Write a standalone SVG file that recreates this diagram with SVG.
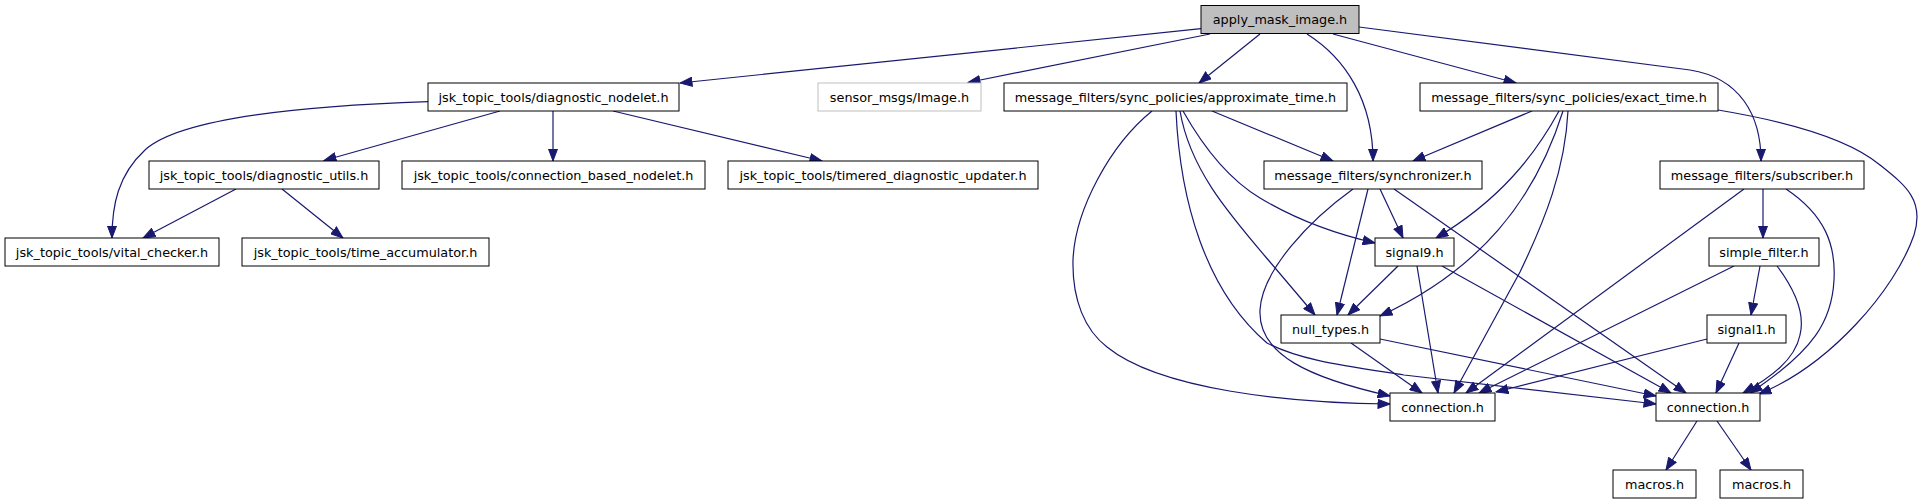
<svg xmlns="http://www.w3.org/2000/svg" width="1924" height="504" viewBox="0 0 1924 504">
<style>
.n rect{fill:#fff;stroke:#000;stroke-width:1}
.n text{font-family:"DejaVu Sans",sans-serif;font-size:12.8px;fill:#000;text-anchor:middle}
#edges path{fill:none;stroke:#191970;stroke-width:1.2;marker-end:url(#ah)}
</style>
<defs>
<marker id="ah" markerWidth="13" markerHeight="10" refX="12.5" refY="5" orient="auto" markerUnits="userSpaceOnUse"><path d="M0.5,0.5 L12.5,5 L0.5,9.5 z" fill="#191970" stroke="#191970" stroke-width="1"/></marker>
</defs>
<rect width="1924" height="504" fill="#fff"/>
<g id="edges">
<path d="M1201,28.7 L680,83"/>
<path d="M1210,34 L968,82.5"/>
<path d="M1260,34 L1199,83"/>
<path d="M1307,34 C1345,58 1373,100 1373,161"/>
<path d="M1333,34 L1516,83"/>
<path d="M1359,27 L1690,70 C1740,78 1761,115 1761,161"/>
<path d="M428,101.7 C300,106 180,118 145,150 C118,175 112,205 112,238"/>
<path d="M500,111 L324,160.5"/>
<path d="M553,111 L553,161"/>
<path d="M613,111 L822,161"/>
<path d="M236,189 L143,238"/>
<path d="M282,189 L343,238"/>
<path d="M1152,111 C1110,145 1075,210 1073,260 C1072,300 1085,330 1107,347 C1160,390 1290,403 1390,404"/>
<path d="M1212,111 L1333,161"/>
<path d="M1183,111 C1205,150 1230,180 1260,198 C1300,222 1340,235 1375,243"/>
<path d="M1180,111 C1190,170 1230,215 1270,262 L1315,315"/>
<path d="M1176,111 C1180,200 1205,290 1267,343 C1300,360 1340,365 1404,375 L1656,404"/>
<path d="M1532,111 L1413,161"/>
<path d="M1559,111 C1535,155 1500,200 1436,238"/>
<path d="M1563,111 C1535,200 1480,270 1380,316"/>
<path d="M1568,111 C1565,170 1545,220 1520,272 L1454,393"/>
<path d="M1718,110 C1790,122 1850,140 1880,165 C1905,185 1925,200 1914,235 C1895,290 1830,365 1759,394"/>
<path d="M1380,189 L1403,238"/>
<path d="M1368,189 L1337,315"/>
<path d="M1353,189 C1310,220 1262,270 1260,310 C1258,355 1310,378 1390,396"/>
<path d="M1394,189 L1686,393"/>
<path d="M1398,266 L1348,315"/>
<path d="M1417,266 L1438,393"/>
<path d="M1442,266 L1671,393"/>
<path d="M1351,343 L1422,393"/>
<path d="M1380,339 L1656,396"/>
<path d="M1763,189 L1763,238"/>
<path d="M1744,189 L1466,393"/>
<path d="M1786,189 C1825,215 1836,245 1834,280 C1832,320 1815,350 1750,393"/>
<path d="M1760,266 L1751,315"/>
<path d="M1734,266 L1479,393"/>
<path d="M1777,266 C1795,290 1805,315 1800,335 C1795,360 1770,378 1743,393"/>
<path d="M1707,339 L1496,392"/>
<path d="M1739,343 L1716,393"/>
<path d="M1697,421 L1666,470"/>
<path d="M1717,421 L1751,470"/>
</g>
<g id="apply_mask_image" class="n"><rect x="1201" y="5.5" width="158" height="28" style="fill:#bfbfbf"/><text x="1280" y="24">apply_mask_image.h</text></g>
<g id="diagnostic_nodelet" class="n"><rect x="428" y="83" width="251" height="28"/><text x="553.5" y="101.5">jsk_topic_tools/diagnostic_nodelet.h</text></g>
<g id="sensor_image" class="n"><rect x="818" y="83" width="163" height="28" style="stroke:#bfbfbf"/><text x="899.5" y="101.5">sensor_msgs/Image.h</text></g>
<g id="approximate_time" class="n"><rect x="1004" y="83" width="343" height="28"/><text x="1175.5" y="101.5">message_filters/sync_policies/approximate_time.h</text></g>
<g id="exact_time" class="n"><rect x="1420" y="83" width="298" height="28"/><text x="1569" y="101.5">message_filters/sync_policies/exact_time.h</text></g>
<g id="diagnostic_utils" class="n"><rect x="149" y="161" width="230" height="28"/><text x="264" y="179.5">jsk_topic_tools/diagnostic_utils.h</text></g>
<g id="connection_based_nodelet" class="n"><rect x="402" y="161" width="303" height="28"/><text x="553.5" y="179.5">jsk_topic_tools/connection_based_nodelet.h</text></g>
<g id="timered_diagnostic_updater" class="n"><rect x="728" y="161" width="310" height="28"/><text x="883" y="179.5">jsk_topic_tools/timered_diagnostic_updater.h</text></g>
<g id="synchronizer" class="n"><rect x="1264" y="161" width="218" height="28"/><text x="1373" y="179.5">message_filters/synchronizer.h</text></g>
<g id="subscriber" class="n"><rect x="1660" y="161" width="204" height="28"/><text x="1762" y="179.5">message_filters/subscriber.h</text></g>
<g id="vital_checker" class="n"><rect x="5" y="238" width="214" height="28"/><text x="112" y="256.5">jsk_topic_tools/vital_checker.h</text></g>
<g id="time_accumulator" class="n"><rect x="242" y="238" width="247" height="28"/><text x="365.5" y="256.5">jsk_topic_tools/time_accumulator.h</text></g>
<g id="signal9" class="n"><rect x="1375" y="238" width="79" height="28"/><text x="1414.5" y="256.5">signal9.h</text></g>
<g id="simple_filter" class="n"><rect x="1709" y="238" width="110" height="28"/><text x="1764" y="256.5">simple_filter.h</text></g>
<g id="null_types" class="n"><rect x="1281" y="315" width="99" height="28"/><text x="1330.5" y="333.5">null_types.h</text></g>
<g id="signal1" class="n"><rect x="1707" y="315" width="79" height="28"/><text x="1746.5" y="333.5">signal1.h</text></g>
<g id="connection_left" class="n"><rect x="1390" y="393" width="105" height="28"/><text x="1442.5" y="411.5">connection.h</text></g>
<g id="connection_right" class="n"><rect x="1656" y="393" width="104" height="28"/><text x="1708" y="411.5">connection.h</text></g>
<g id="macros_1" class="n"><rect x="1613" y="470" width="83" height="28"/><text x="1654.5" y="488.5">macros.h</text></g>
<g id="macros_2" class="n"><rect x="1720" y="470" width="83" height="28"/><text x="1761.5" y="488.5">macros.h</text></g>
</svg>
